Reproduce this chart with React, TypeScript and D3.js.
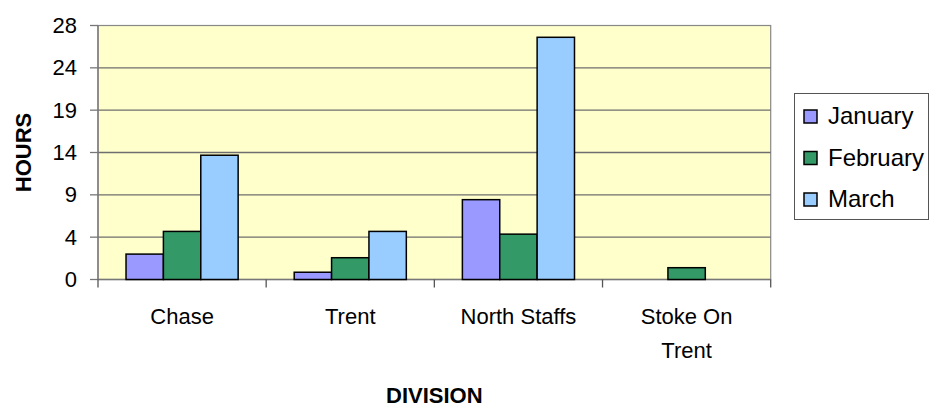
import React from "react";
import * as d3 from "d3";

const categories = ["Chase", "Trent", "North Staffs", "Stoke On Trent"];
const categoryLines = [["Chase"], ["Trent"], ["North Staffs"], ["Stoke On", "Trent"]];
const seriesNames = ["January", "February", "March"];
const january = [2.8, 0.8, 8.8, 0];
const february = [5.3, 2.4, 5.0, 1.3];
const march = [13.7, 5.3, 26.7, 0];
const seriesColors = ["#9999FF", "#339966", "#99CCFF"];
const tickLabels = ["0", "4", "9", "14", "19", "24", "28"];
const yMax = 28;

const W = 929;
const H = 407;
const plot = { left: 98, right: 770.7, top: 25.5, bottom: 279.5 };
const FONT = "'Liberation Sans', Arial, Helvetica, sans-serif";

export default function App() {
  const values = [january, february, march];
  const x0 = d3.scaleBand<string>().domain(categories).range([plot.left, plot.right]).padding(0);
  const x1 = d3
    .scaleBand<string>()
    .domain(seriesNames)
    .range([0, x0.bandwidth()])
    .paddingInner(0)
    .paddingOuter(0.75);
  const y = d3.scaleLinear().domain([0, yMax]).range([plot.bottom, plot.top]);
  const tickVals = tickLabels.map((_, i) => (i * yMax) / (tickLabels.length - 1));
  const boundaries = [...categories.map((c) => x0(c) as number), plot.right];

  return (
    <div style={{ position: "absolute", left: 0, top: 0 }}>
      <svg width={W} height={H} style={{ display: "block", fontFamily: FONT }}>
        <rect x={0} y={0} width={W} height={H} fill="#ffffff" />
        <rect
          x={plot.left}
          y={plot.top}
          width={plot.right - plot.left}
          height={plot.bottom - plot.top}
          fill="#FFFFCC"
          stroke="#888888"
          strokeWidth={1.2}
        />
        {tickVals.slice(1, -1).map((v, i) => (
          <line key={"g" + i} x1={plot.left} x2={plot.right} y1={y(v)} y2={y(v)} stroke="#6e6e6e" strokeWidth={1.3} />
        ))}
        {/* y axis */}
        <line x1={plot.left} x2={plot.left} y1={plot.top} y2={plot.bottom} stroke="#777777" strokeWidth={1.3} />
        {tickVals.map((v, i) => (
          <g key={"yt" + i}>
            <line x1={plot.left - 8} x2={plot.left} y1={y(v)} y2={y(v)} stroke="#777777" strokeWidth={1.3} />
            <text x={77} y={y(v) + 7.5} textAnchor="end" fontSize={22} fill="#000">
              {tickLabels[i]}
            </text>
          </g>
        ))}
        {/* x axis */}
        <line x1={plot.left} x2={plot.right} y1={plot.bottom} y2={plot.bottom} stroke="#777777" strokeWidth={1.3} />
        {boundaries.map((bx, i) => (
          <line key={"xt" + i} x1={bx} x2={bx} y1={plot.bottom} y2={plot.bottom + 8} stroke="#555555" strokeWidth={1.3} />
        ))}
        {/* bars */}
        {categories.map((c, ci) =>
          seriesNames.map((s, si) => {
            const v = values[si][ci];
            if (!v) return null;
            const bx = (x0(c) as number) + (x1(s) as number);
            return (
              <rect
                key={c + s}
                x={bx}
                y={y(v)}
                width={x1.bandwidth()}
                height={y(0) - y(v)}
                fill={seriesColors[si]}
                stroke="#000"
                strokeWidth={1.5}
              />
            );
          })
        )}
        {/* category labels */}
        {categories.map((c, ci) => (
          <text key={"cl" + ci} x={(x0(c) as number) + x0.bandwidth() / 2} textAnchor="middle" fontSize={22} fill="#000">
            {categoryLines[ci].map((ln, li) => (
              <tspan key={li} x={(x0(c) as number) + x0.bandwidth() / 2} y={324 + li * 34}>
                {ln}
              </tspan>
            ))}
          </text>
        ))}
        {/* axis titles */}
        <text x={(plot.left + plot.right) / 2} y={403} textAnchor="middle" fontSize={22} fontWeight="bold" fill="#000">
          DIVISION
        </text>
        <text
          transform={`translate(31, ${(plot.top + plot.bottom) / 2}) rotate(-90)`}
          textAnchor="middle"
          fontSize={22}
          fontWeight="bold"
          fill="#000"
        >
          HOURS
        </text>
        {/* legend */}
        <rect x={794.5} y={93.5} width={134} height={126} fill="#ffffff" stroke="#555555" strokeWidth={1} />
        {seriesNames.map((s, i) => {
          const base = 124 + i * 41.5;
          return (
            <g key={"lg" + s}>
              <rect x={804} y={base - 14} width={13} height={13} fill={seriesColors[i]} stroke="#000" strokeWidth={1.5} />
              <text x={828} y={base} fontSize={24} fill="#000">
                {s}
              </text>
            </g>
          );
        })}
      </svg>
    </div>
  );
}
